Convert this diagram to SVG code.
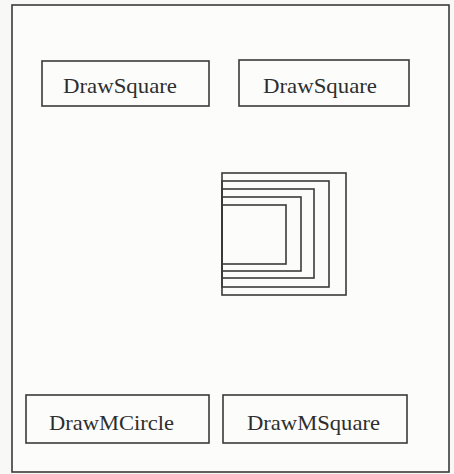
<svg xmlns="http://www.w3.org/2000/svg" width="454" height="474" viewBox="0 0 454 474">
<style>
.box{fill:none;stroke:#3a3a3a;stroke-width:1.6}
.sq{fill:none;stroke:#3a3a3a;stroke-width:1.6}
.lbl{font-family:"Liberation Serif","Times New Roman",serif;font-size:21px;fill:#2e2e2e}
</style>
<rect x="0" y="0" width="454" height="474" fill="#f8f8f6"/>
<rect id="frame" x="12" y="5" width="437" height="467" fill="#fcfcfa" stroke="#3a3a3a" stroke-width="1.6"/>
<g id="drawSquare1">
<rect class="box" x="42" y="61" width="167" height="45"/>
<text class="lbl" x="63" y="93" textLength="114" lengthAdjust="spacingAndGlyphs">DrawSquare</text>
</g>
<g id="drawSquare2">
<rect class="box" x="239" y="60" width="170" height="46"/>
<text class="lbl" x="263" y="93" textLength="114" lengthAdjust="spacingAndGlyphs">DrawSquare</text>
</g>
<g id="nestedSquares">
<rect class="sq" x="222" y="173" width="124" height="122"/>
<rect class="sq" x="222" y="181" width="107" height="106"/>
<rect class="sq" x="222" y="189" width="92" height="89"/>
<rect class="sq" x="222" y="197" width="79" height="74"/>
<rect class="sq" x="222" y="205" width="64" height="59"/>
</g>
<g id="drawMCircle">
<rect class="box" x="26" y="395" width="183" height="48"/>
<text class="lbl" x="49" y="430" textLength="125" lengthAdjust="spacingAndGlyphs">DrawMCircle</text>
</g>
<g id="drawMSquare">
<rect class="box" x="223" y="395" width="184" height="48"/>
<text class="lbl" x="247" y="430" textLength="133" lengthAdjust="spacingAndGlyphs">DrawMSquare</text>
</g>
<g id="connectors"></g>
</svg>
